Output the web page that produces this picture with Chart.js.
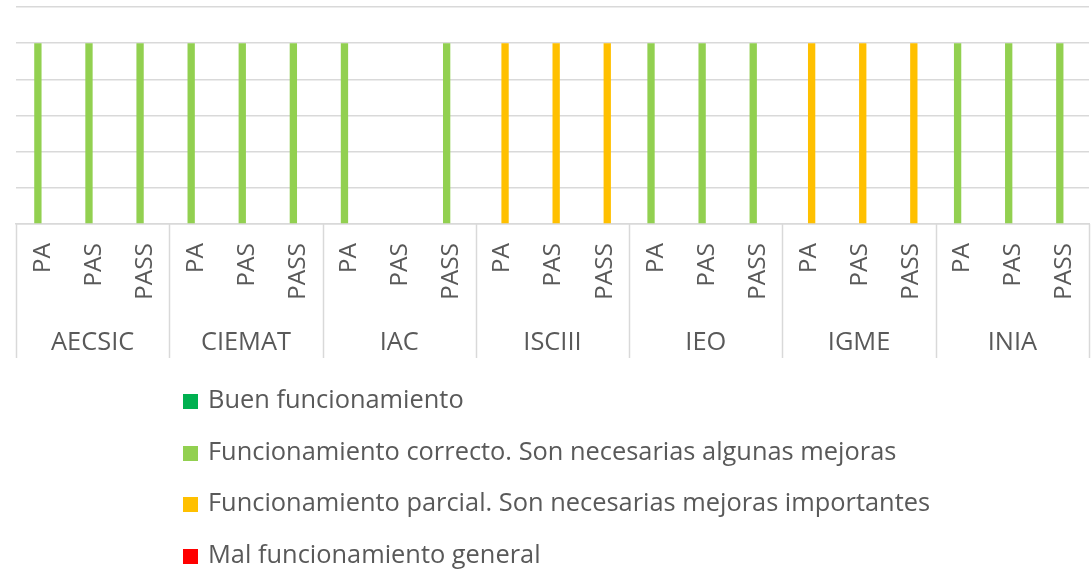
<!DOCTYPE html>
<html>
<head>
<meta charset="utf-8">
<script src="https://cdn.jsdelivr.net/npm/chart.js@4.4.0/dist/chart.umd.min.js"></script>
<style>
    html, body { margin: 0; padding: 0; background: #fff; }
    #wrap { position: relative; width: 1091px; height: 569px; }
    #legend { position: absolute; left: 183px; top: 380px; font-family: "Open Sans", sans-serif; font-size: 25.4px; color: #595959; }
    #legend div { position: absolute; white-space: nowrap; height: 36px; line-height: 36px; }
    #legend span.box { display: inline-block; width: 15px; height: 15px; margin-right: 10px; vertical-align: -1px; }
</style>
</head>
<body>
<div id="wrap">
    <canvas id="chart" width="1091" height="569"></canvas>
    <div id="legend"></div>
</div>
<script>
// Data
const groups = ['AECSIC', 'CIEMAT', 'IAC', 'ISCIII', 'IEO', 'IGME', 'INIA'];
const subLabels = ['PA', 'PAS', 'PASS'];
const seriesNames = [
    'Buen funcionamiento',
    'Funcionamiento correcto. Son necesarias algunas mejoras',
    'Funcionamiento parcial. Son necesarias mejoras importantes',
    'Mal funcionamiento general'
];
const seriesColors = ['#00B050', '#92D050', '#FFC000', '#FF0000'];
const yTicks = [0, 1, 2, 3, 4, 5, 6];

// one value per category (group x sub label)
const buenValues = [
    null, null, null,  null, null, null,  null, null, null,  null, null, null,
    null, null, null,  null, null, null,  null, null, null
];
const correctoValues = [
    5, 5, 5,  5, 5, 5,  5, null, 5,  null, null, null,
    5, 5, 5,  null, null, null,  5, 5, 5
];
const parcialValues = [
    null, null, null,  null, null, null,  null, null, null,  5, 5, 5,
    null, null, null,  5, 5, 5,  null, null, null
];
const malValues = [
    null, null, null,  null, null, null,  null, null, null,  null, null, null,
    null, null, null,  null, null, null,  null, null, null
];

const labels = [];
groups.forEach(g => subLabels.forEach(s => labels.push(s)));
const allValues = [buenValues, correctoValues, parcialValues, malValues];

const textColor = '#595959';
const lineColor = '#d9d9d9';
const fontFamily = '"Open Sans", sans-serif';

// ============================================================================
// GROUPED CATEGORY AXIS (drawn under the plot area)
// ============================================================================
const groupAxis = {
    id: 'groupAxis',
    afterDraw(chart) {
        const ctx = chart.ctx;
        const x = chart.scales.x;
        const top = chart.chartArea.bottom;
        const per = subLabels.length;
        const catW = (x.right - x.left) / labels.length;

        ctx.save();
        ctx.strokeStyle = lineColor;
        ctx.lineWidth = 1.5;
        for (let g = 0; g <= groups.length; g++) {
            const px = Math.round(x.left + g * per * catW) + 0.5;
            ctx.beginPath();
            ctx.moveTo(px, top);
            ctx.lineTo(px, 358);
            ctx.stroke();
        }

        ctx.fillStyle = textColor;
        ctx.font = '24.5px ' + fontFamily;
        labels.forEach((lab, i) => {
            const px = x.getPixelForValue(i);
            ctx.save();
            ctx.translate(px + 1, 243);
            ctx.rotate(-Math.PI / 2);
            ctx.textAlign = 'right';
            ctx.textBaseline = 'middle';
            ctx.fillText(lab, 0, 0);
            ctx.restore();
        });

        ctx.font = '25.4px ' + fontFamily;
        ctx.textAlign = 'center';
        ctx.textBaseline = 'alphabetic';
        groups.forEach((g, gi) => {
            const cx = x.left + (gi * per + per / 2) * catW;
            ctx.fillText(g, cx, 350);
        });
        ctx.restore();
    }
};

new Chart(document.getElementById('chart'), {
    type: 'bar',
    data: {
        labels: labels,
        datasets: seriesNames.map((name, i) => ({
            label: name,
            data: allValues[i],
            backgroundColor: seriesColors[i],
            borderWidth: 0,
            categoryPercentage: 0.573,
            barPercentage: 1
        }))
    },
    options: {
        responsive: false,
        animation: false,
        layout: {
            padding: { left: 16, right: 2, top: 7, bottom: 337 }
        },
        plugins: {
            legend: { display: false },
            tooltip: { enabled: false }
        },
        scales: {
            x: {
                ticks: { display: false },
                grid: { display: false },
                border: { display: true, color: lineColor, width: 1.5 }
            },
            y: {
                min: yTicks[0],
                max: yTicks[yTicks.length - 1],
                afterBuildTicks: axis => {
                    axis.ticks = yTicks.map(v => ({ value: v }));
                },
                ticks: { display: false },
                grid: { color: lineColor, lineWidth: 1.5, drawTicks: false },
                border: { display: false }
            }
        }
    },
    plugins: [groupAxis]
});

// Legend
const legend = document.getElementById('legend');
seriesNames.forEach((name, i) => {
    const row = document.createElement('div');
    row.style.top = (i * 51.5) + 'px';
    row.innerHTML = '<span class="box" style="background:' + seriesColors[i] + '"></span>' + name;
    legend.appendChild(row);
});
</script>
</body>
</html>
